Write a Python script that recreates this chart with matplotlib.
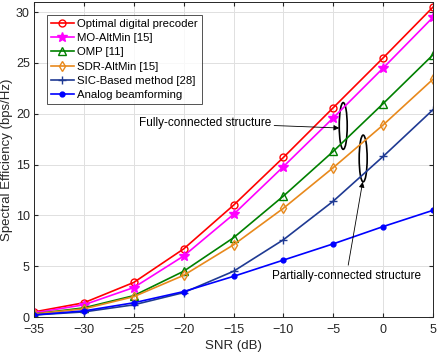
import matplotlib
matplotlib.use("Agg")
import matplotlib.pyplot as plt
from matplotlib.patches import Ellipse

plt.rcParams['font.family'] = ['Liberation Sans', 'DejaVu Sans']

snr = [-35, -30, -25, -20, -15, -10, -5, 0, 5]
optimal = [0.5, 1.4, 3.4, 6.7, 11.0, 15.7, 20.6, 25.5, 30.5]
mo_altmin = [0.4, 1.2, 2.9, 6.0, 10.1, 14.8, 19.6, 24.5, 29.5]
omp = [0.3, 0.9, 2.1, 4.5, 7.8, 11.9, 16.3, 21.0, 25.8]
sdr_altmin = [0.3, 0.8, 2.0, 4.1, 7.1, 10.7, 14.7, 18.9, 23.4]
sic = [0.2, 0.5, 1.2, 2.4, 4.5, 7.6, 11.4, 15.8, 20.4]
analog = [0.2, 0.6, 1.4, 2.5, 4.0, 5.6, 7.2, 8.9, 10.5]

labels = ['Optimal digital precoder', 'MO-AltMin [15]', 'OMP [11]',
          'SDR-AltMin [15]', 'SIC-Based method [28]', 'Analog beamforming']

fig = plt.figure(figsize=(4.4, 3.54), dpi=100)
ax = fig.add_axes([34/440, 1-317/354, (433-34)/440, (317-2)/354])

ax.plot(snr, optimal, color='#ff0000', marker='o', mfc='none', ms=5, lw=1.2, label=labels[0])
ax.plot(snr, mo_altmin, color='#ff00ff', marker='*', mfc='#ff00ff', ms=7, lw=1.2, label=labels[1])
ax.plot(snr, omp, color='#008000', marker='^', mfc='none', ms=5.5, lw=1.2, label=labels[2])
ax.plot(snr, sdr_altmin, color='#e8891c', marker='d', mfc='none', ms=5, lw=1.2, label=labels[3])
ax.plot(snr, sic, color='#1f3a93', marker='+', ms=5.5, lw=1.2, label=labels[4])
ax.plot(snr, analog, color='#0000ff', marker='o', mfc='#0000ff', ms=3.5, lw=1.2, label=labels[5])

ax.set_xlim(-35, 5)
ax.set_ylim(0, 31)
ax.set_xticks(range(-35, 6, 5))
ax.set_yticks(range(0, 31, 5))
ax.grid(True, color='#e0e0e0', lw=0.7)
ax.set_axisbelow(True)
ax.tick_params(direction='in', top=True, right=True, labelsize=9, colors='#262626', length=3)
ax.tick_params(axis='x', pad=5)
ax.tick_params(axis='y', pad=3)
for s in ax.spines.values():
    s.set_color('#262626')
    s.set_linewidth(0.7)
ax.set_xlabel('SNR (dB)', fontsize=9.5, color='#262626', labelpad=3)
ax.set_ylabel('Spectral Efficiency (bps/Hz)', fontsize=9.5, color='#262626')
ax.yaxis.set_label_coords(-27/399, 0.5)
ax.yaxis.label.set_va('center')

leg = ax.legend(loc='upper left', fontsize=8.2, frameon=True, fancybox=False,
                edgecolor='#262626', borderpad=0.35, labelspacing=0.38,
                handlelength=2.0, handletextpad=0.3, bbox_to_anchor=(0.018, 0.978))
leg.get_frame().set_linewidth(0.7)

ax.add_patch(Ellipse((-4.0, 18.8), 0.8, 4.6, fill=False, ec='black', lw=1.2))
ax.add_patch(Ellipse((-2.0, 15.6), 0.8, 4.6, fill=False, ec='black', lw=1.2))

ax.annotate('Fully-connected structure', xy=(-4.4, 18.6), xytext=(-11.2, 19.1),
            fontsize=8.5, ha='right', va='center',
            arrowprops=dict(arrowstyle='-|>', color='black', lw=0.6, mutation_scale=8, shrinkA=0, shrinkB=0))
ax.annotate('', xy=(-2.05, 13.3), xytext=(-3.5, 5.1),
            arrowprops=dict(arrowstyle='-|>', color='black', lw=0.6, mutation_scale=8, shrinkA=0, shrinkB=0))
ax.text(-11.1, 4.06, 'Partially-connected structure', fontsize=8.5, ha='left', va='center')

fig.savefig('out.png', dpi=100)
